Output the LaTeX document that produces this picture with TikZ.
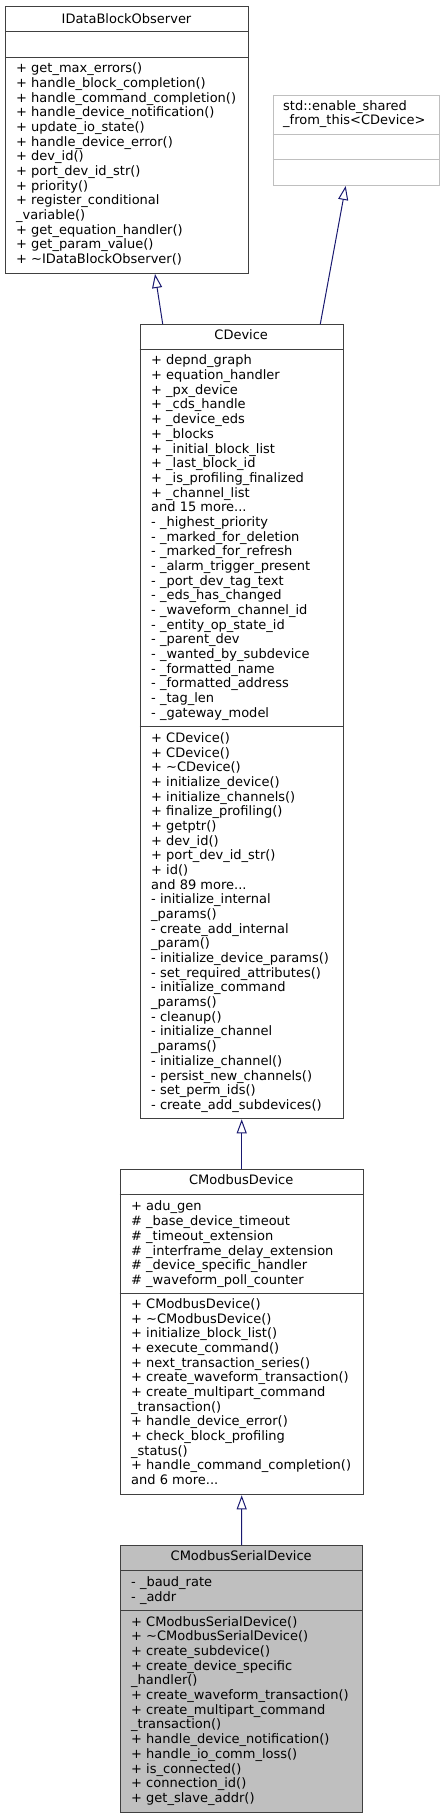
\documentclass[tikz,border=0pt]{standalone}
\usepackage{fontspec}
\setmainfont{DejaVu Sans}
\usetikzlibrary{arrows.meta}
\definecolor{boxline}{HTML}{404040}
\definecolor{greyline}{HTML}{BFBFBF}
\definecolor{greyfill}{HTML}{BFBFBF}
\definecolor{edgeblue}{HTML}{191970}
\begin{document}
\begin{tikzpicture}[x=1pt,y=-1pt,
  box/.style={draw=boxline, line width=1pt, fill=white, inner sep=0pt, anchor=north west},
  txt/.style={anchor=north west, align=left, inner sep=0pt, font=\fontsize{13}{14.67}\selectfont, execute at begin node=\strut},
  ttl/.style={anchor=base, inner sep=0pt, font=\fontsize{13}{14.67}\selectfont},
  sep/.style={draw=boxline, line width=1pt},
  inh/.style={draw=edgeblue, line width=1pt, -{Triangle[open, length=14pt, width=10pt]}}
]
\useasboundingbox (0,0) rectangle (444,1819);

% IDataBlockObserver
\node[box, minimum width=243pt, minimum height=266.7pt] (idata) at (5,6.3) {};
\node[ttl] (idataT) at (126.5,23.3) {IDataBlockObserver};
\draw[sep] (idata.west |- 0,32) -- (idata.east |- 0,32);
\draw[sep] (idata.west |- 0,57.3) -- (idata.east |- 0,57.3);
\node[txt] (idataM) at (16,62.7) {+ get\_max\_errors()\\
+ handle\_block\_completion()\\
+ handle\_command\_completion()\\
+ handle\_device\_notification()\\
+ update\_io\_state()\\
+ handle\_device\_error()\\
+ dev\_id()\\
+ port\_dev\_id\_str()\\
+ priority()\\
+ register\_conditional\\
\_variable()\\
+ get\_equation\_handler()\\
+ get\_param\_value()\\
+ \textasciitilde IDataBlockObserver()};

% std::enable_shared_from_this<CDevice>
\node[box, draw=greyline, minimum width=166.6pt, minimum height=90.3pt] (enable) at (272.7,94.7) {};
\node[txt] (enableT) at (283,100.2) {std::enable\_shared\\
\_from\_this<CDevice>};
\draw[sep, draw=greyline] (enable.west |- 0,134.7) -- (enable.east |- 0,134.7);
\draw[sep, draw=greyline] (enable.west |- 0,160) -- (enable.east |- 0,160);

% CDevice
\node[box, minimum width=203pt, minimum height=794.3pt] (cdev) at (139.7,324) {};
\node[ttl] (cdevT) at (241.2,339.8) {CDevice};
\draw[sep] (cdev.west |- 0,349.3) -- (cdev.east |- 0,349.3);
\draw[sep] (cdev.west |- 0,726.7) -- (cdev.east |- 0,726.7);
\node[txt] (cdevA) at (151,354.9) {+ depnd\_graph\\
+ equation\_handler\\
+ \_px\_device\\
+ \_cds\_handle\\
+ \_device\_eds\\
+ \_blocks\\
+ \_initial\_block\_list\\
+ \_last\_block\_id\\
+ \_is\_profiling\_finalized\\
+ \_channel\_list\\
and 15 more...\\
- \_highest\_priority\\
- \_marked\_for\_deletion\\
- \_marked\_for\_refresh\\
- \_alarm\_trigger\_present\\
- \_port\_dev\_tag\_text\\
- \_eds\_has\_changed\\
- \_waveform\_channel\_id\\
- \_entity\_op\_state\_id\\
- \_parent\_dev\\
- \_wanted\_by\_subdevice\\
- \_formatted\_name\\
- \_formatted\_address\\
- \_tag\_len\\
- \_gateway\_model};
\node[txt] (cdevM) at (151,732.5) {+ CDevice()\\
+ CDevice()\\
+ \textasciitilde CDevice()\\
+ initialize\_device()\\
+ initialize\_channels()\\
+ finalize\_profiling()\\
+ getptr()\\
+ dev\_id()\\
+ port\_dev\_id\_str()\\
+ id()\\
and 89 more...\\
- initialize\_internal\\
\_params()\\
- create\_add\_internal\\
\_param()\\
- initialize\_device\_params()\\
- set\_required\_attributes()\\
- initialize\_command\\
\_params()\\
- cleanup()\\
- initialize\_channel\\
\_params()\\
- initialize\_channel()\\
- persist\_new\_channels()\\
- set\_perm\_ids()\\
- create\_add\_subdevices()};

% CModbusDevice
\node[box, minimum width=243pt, minimum height=325pt] (cmod) at (119.7,1169.3) {};
\node[ttl] (cmodT) at (241.2,1184.8) {CModbusDevice};
\draw[sep] (cmod.west |- 0,1194.7) -- (cmod.east |- 0,1194.7);
\draw[sep] (cmod.west |- 0,1293.3) -- (cmod.east |- 0,1293.3);
\node[txt] (cmodA) at (131,1200.9) {+ adu\_gen\\
\# \_base\_device\_timeout\\
\# \_timeout\_extension\\
\# \_interframe\_delay\_extension\\
\# \_device\_specific\_handler\\
\# \_waveform\_poll\_counter};
\node[txt] (cmodM) at (131,1298.5) {+ CModbusDevice()\\
+ \textasciitilde CModbusDevice()\\
+ initialize\_block\_list()\\
+ execute\_command()\\
+ next\_transaction\_series()\\
+ create\_waveform\_transaction()\\
+ create\_multipart\_command\\
\_transaction()\\
+ handle\_device\_error()\\
+ check\_block\_profiling\\
\_status()\\
+ handle\_command\_completion()\\
and 6 more...};

% CModbusSerialDevice
\node[box, fill=greyfill, minimum width=241.7pt, minimum height=267pt] (cser) at (120.3,1545) {};
\node[ttl] (cserT) at (241.2,1560.5) {CModbusSerialDevice};
\draw[sep] (cser.west |- 0,1570.7) -- (cser.east |- 0,1570.7);
\draw[sep] (cser.west |- 0,1610.3) -- (cser.east |- 0,1610.3);
\node[txt] (cserA) at (131,1576.9) {- \_baud\_rate\\
- \_addr};
\node[txt] (cserM) at (131,1616.2) {+ CModbusSerialDevice()\\
+ \textasciitilde CModbusSerialDevice()\\
+ create\_subdevice()\\
+ create\_device\_specific\\
\_handler()\\
+ create\_waveform\_transaction()\\
+ create\_multipart\_command\\
\_transaction()\\
+ handle\_device\_notification()\\
+ handle\_io\_comm\_loss()\\
+ is\_connected()\\
+ connection\_id()\\
+ get\_slave\_addr()};

% inheritance edges
\draw[inh] ([xshift=23pt]cdev.north west) -- ([xshift=150pt]idata.south west);
\draw[inh] ([xshift=-23.4pt]cdev.north east) -- ([xshift=73pt]enable.south west);
\draw[inh] (cmod.north) -- (cdev.south);
\draw[inh] (cser.north) -- (cmod.south);
\end{tikzpicture}
\end{document}
